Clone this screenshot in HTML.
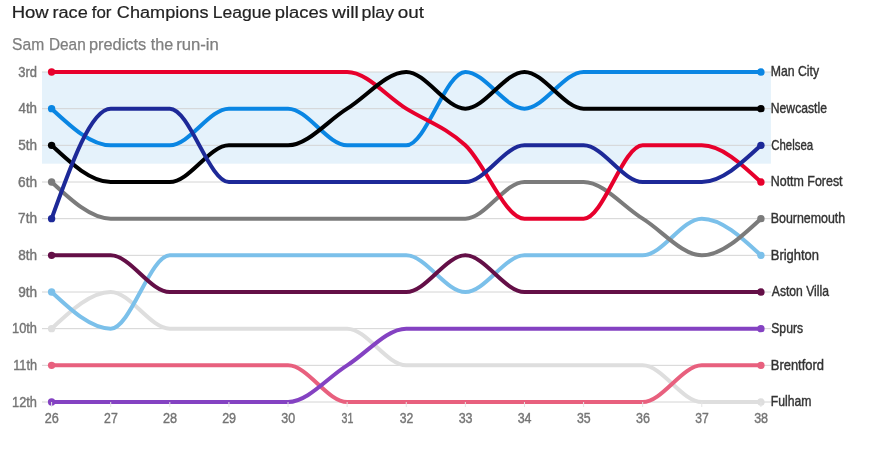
<!DOCTYPE html>
<html lang="en"><head><meta charset="utf-8"><title>How race for Champions League places will play out</title>
<style>html,body{margin:0;padding:0;background:#fff}body{width:869px;height:450px;overflow:hidden}svg{display:block}</style>
</head><body>
<svg width="869" height="450" viewBox="0 0 869 450">
<rect x="42" y="72.00" width="728.90" height="91.67" fill="#e5f2fb"/>
<line x1="42" x2="771" y1="72.00" y2="72.00" stroke="#d4d4d4" stroke-width="1"/>
<line x1="42" x2="771" y1="108.67" y2="108.67" stroke="#d4d4d4" stroke-width="1"/>
<line x1="42" x2="771" y1="145.33" y2="145.33" stroke="#d4d4d4" stroke-width="1"/>
<line x1="42" x2="771" y1="182.00" y2="182.00" stroke="#d4d4d4" stroke-width="1"/>
<line x1="42" x2="771" y1="218.67" y2="218.67" stroke="#d4d4d4" stroke-width="1"/>
<line x1="42" x2="771" y1="255.33" y2="255.33" stroke="#d4d4d4" stroke-width="1"/>
<line x1="42" x2="771" y1="292.00" y2="292.00" stroke="#d4d4d4" stroke-width="1"/>
<line x1="42" x2="771" y1="328.67" y2="328.67" stroke="#d4d4d4" stroke-width="1"/>
<line x1="42" x2="771" y1="365.33" y2="365.33" stroke="#d4d4d4" stroke-width="1"/>
<line x1="42" x2="771" y1="402.00" y2="402.00" stroke="#d4d4d4" stroke-width="1"/>
<g fill="none" stroke-width="4" stroke-linecap="round" stroke-linejoin="round">
<path d="M51.60,328.67C71.30,310.33,91.01,292.00,110.71,292.00C130.41,292.00,150.11,328.67,169.82,328.67C189.52,328.67,209.22,328.67,228.92,328.67C248.63,328.67,268.33,328.67,288.03,328.67C307.74,328.67,327.44,328.67,347.14,328.67C366.84,328.67,386.55,365.33,406.25,365.33C425.95,365.33,445.66,365.33,465.36,365.33C485.06,365.33,504.76,365.33,524.47,365.33C544.17,365.33,563.87,365.33,583.58,365.33C603.28,365.33,622.98,365.33,642.68,365.33C662.39,365.33,682.09,402.00,701.79,402.00C721.49,402.00,741.20,402.00,760.90,402.00" stroke="#dedede"/>
<path d="M51.60,365.33C71.30,365.33,91.01,365.33,110.71,365.33C130.41,365.33,150.11,365.33,169.82,365.33C189.52,365.33,209.22,365.33,228.92,365.33C248.63,365.33,268.33,365.33,288.03,365.33C307.74,365.33,327.44,402.00,347.14,402.00C366.84,402.00,386.55,402.00,406.25,402.00C425.95,402.00,445.66,402.00,465.36,402.00C485.06,402.00,504.76,402.00,524.47,402.00C544.17,402.00,563.87,402.00,583.58,402.00C603.28,402.00,622.98,402.00,642.68,402.00C662.39,402.00,682.09,365.33,701.79,365.33C721.49,365.33,741.20,365.33,760.90,365.33" stroke="#e8607e"/>
<path d="M51.60,402.00C71.30,402.00,91.01,402.00,110.71,402.00C130.41,402.00,150.11,402.00,169.82,402.00C189.52,402.00,209.22,402.00,228.92,402.00C248.63,402.00,268.33,402.00,288.03,402.00C307.74,402.00,327.44,377.56,347.14,365.33C366.84,353.11,386.55,328.67,406.25,328.67C425.95,328.67,445.66,328.67,465.36,328.67C485.06,328.67,504.76,328.67,524.47,328.67C544.17,328.67,563.87,328.67,583.58,328.67C603.28,328.67,622.98,328.67,642.68,328.67C662.39,328.67,682.09,328.67,701.79,328.67C721.49,328.67,741.20,328.67,760.90,328.67" stroke="#8442c2"/>
<path d="M51.60,292.00C71.30,310.33,91.01,328.67,110.71,328.67C130.41,328.67,150.11,255.33,169.82,255.33C189.52,255.33,209.22,255.33,228.92,255.33C248.63,255.33,268.33,255.33,288.03,255.33C307.74,255.33,327.44,255.33,347.14,255.33C366.84,255.33,386.55,255.33,406.25,255.33C425.95,255.33,445.66,292.00,465.36,292.00C485.06,292.00,504.76,255.33,524.47,255.33C544.17,255.33,563.87,255.33,583.58,255.33C603.28,255.33,622.98,255.33,642.68,255.33C662.39,255.33,682.09,218.67,701.79,218.67C721.49,218.67,741.20,237.00,760.90,255.33" stroke="#7bc0ea"/>
<path d="M51.60,255.33C71.30,255.33,91.01,255.33,110.71,255.33C130.41,255.33,150.11,292.00,169.82,292.00C189.52,292.00,209.22,292.00,228.92,292.00C248.63,292.00,268.33,292.00,288.03,292.00C307.74,292.00,327.44,292.00,347.14,292.00C366.84,292.00,386.55,292.00,406.25,292.00C425.95,292.00,445.66,255.33,465.36,255.33C485.06,255.33,504.76,292.00,524.47,292.00C544.17,292.00,563.87,292.00,583.58,292.00C603.28,292.00,622.98,292.00,642.68,292.00C662.39,292.00,682.09,292.00,701.79,292.00C721.49,292.00,741.20,292.00,760.90,292.00" stroke="#640f47"/>
<path d="M51.60,182.00C71.30,200.33,91.01,218.67,110.71,218.67C130.41,218.67,150.11,218.67,169.82,218.67C189.52,218.67,209.22,218.67,228.92,218.67C248.63,218.67,268.33,218.67,288.03,218.67C307.74,218.67,327.44,218.67,347.14,218.67C366.84,218.67,386.55,218.67,406.25,218.67C425.95,218.67,445.66,218.67,465.36,218.67C485.06,218.67,504.76,182.00,524.47,182.00C544.17,182.00,563.87,182.00,583.58,182.00C603.28,182.00,622.98,206.44,642.68,218.67C662.39,230.89,682.09,255.33,701.79,255.33C721.49,255.33,741.20,237.00,760.90,218.67" stroke="#7b7b7b"/>
<path d="M51.60,108.67C71.30,127.00,91.01,145.33,110.71,145.33C130.41,145.33,150.11,145.33,169.82,145.33C189.52,145.33,209.22,108.67,228.92,108.67C248.63,108.67,268.33,108.67,288.03,108.67C307.74,108.67,327.44,145.33,347.14,145.33C366.84,145.33,386.55,145.33,406.25,145.33C425.95,145.33,445.66,72.00,465.36,72.00C485.06,72.00,504.76,108.67,524.47,108.67C544.17,108.67,563.87,72.00,583.58,72.00C603.28,72.00,622.98,72.00,642.68,72.00C662.39,72.00,682.09,72.00,701.79,72.00C721.49,72.00,741.20,72.00,760.90,72.00" stroke="#0a86e3"/>
<path d="M51.60,72.00C71.30,72.00,91.01,72.00,110.71,72.00C130.41,72.00,150.11,72.00,169.82,72.00C189.52,72.00,209.22,72.00,228.92,72.00C248.63,72.00,268.33,72.00,288.03,72.00C307.74,72.00,327.44,72.00,347.14,72.00C366.84,72.00,386.55,96.44,406.25,108.67C425.95,120.89,445.66,127.00,465.36,145.33C485.06,163.67,504.76,218.67,524.47,218.67C544.17,218.67,563.87,218.67,583.58,218.67C603.28,218.67,622.98,145.33,642.68,145.33C662.39,145.33,682.09,145.33,701.79,145.33C721.49,145.33,741.20,163.67,760.90,182.00" stroke="#e7002c"/>
<path d="M51.60,145.33C71.30,163.67,91.01,182.00,110.71,182.00C130.41,182.00,150.11,182.00,169.82,182.00C189.52,182.00,209.22,145.33,228.92,145.33C248.63,145.33,268.33,145.33,288.03,145.33C307.74,145.33,327.44,120.89,347.14,108.67C366.84,96.44,386.55,72.00,406.25,72.00C425.95,72.00,445.66,108.67,465.36,108.67C485.06,108.67,504.76,72.00,524.47,72.00C544.17,72.00,563.87,108.67,583.58,108.67C603.28,108.67,622.98,108.67,642.68,108.67C662.39,108.67,682.09,108.67,701.79,108.67C721.49,108.67,741.20,108.67,760.90,108.67" stroke="#000000"/>
<path d="M51.60,218.67C71.30,163.67,91.01,108.67,110.71,108.67C130.41,108.67,150.11,108.67,169.82,108.67C189.52,108.67,209.22,182.00,228.92,182.00C248.63,182.00,268.33,182.00,288.03,182.00C307.74,182.00,327.44,182.00,347.14,182.00C366.84,182.00,386.55,182.00,406.25,182.00C425.95,182.00,445.66,182.00,465.36,182.00C485.06,182.00,504.76,145.33,524.47,145.33C544.17,145.33,563.87,145.33,583.58,145.33C603.28,145.33,622.98,182.00,642.68,182.00C662.39,182.00,682.09,182.00,701.79,182.00C721.49,182.00,741.20,163.67,760.90,145.33" stroke="#1d2998"/>
</g>
<circle cx="51.60" cy="328.67" r="3.7" fill="#dedede"/>
<circle cx="760.90" cy="402.00" r="3.7" fill="#dedede"/>
<circle cx="51.60" cy="365.33" r="3.7" fill="#e8607e"/>
<circle cx="760.90" cy="365.33" r="3.7" fill="#e8607e"/>
<circle cx="51.60" cy="402.00" r="3.7" fill="#8442c2"/>
<circle cx="760.90" cy="328.67" r="3.7" fill="#8442c2"/>
<circle cx="51.60" cy="292.00" r="3.7" fill="#7bc0ea"/>
<circle cx="760.90" cy="255.33" r="3.7" fill="#7bc0ea"/>
<circle cx="51.60" cy="255.33" r="3.7" fill="#640f47"/>
<circle cx="760.90" cy="292.00" r="3.7" fill="#640f47"/>
<circle cx="51.60" cy="182.00" r="3.7" fill="#7b7b7b"/>
<circle cx="760.90" cy="218.67" r="3.7" fill="#7b7b7b"/>
<circle cx="51.60" cy="108.67" r="3.7" fill="#0a86e3"/>
<circle cx="760.90" cy="72.00" r="3.7" fill="#0a86e3"/>
<circle cx="51.60" cy="72.00" r="3.7" fill="#e7002c"/>
<circle cx="760.90" cy="182.00" r="3.7" fill="#e7002c"/>
<circle cx="51.60" cy="145.33" r="3.7" fill="#000000"/>
<circle cx="760.90" cy="108.67" r="3.7" fill="#000000"/>
<circle cx="51.60" cy="218.67" r="3.7" fill="#1d2998"/>
<circle cx="760.90" cy="145.33" r="3.7" fill="#1d2998"/>
<line x1="51.60" x2="51.60" y1="402.00" y2="407.00" stroke="#e4e4e4" stroke-width="1"/>
<line x1="110.71" x2="110.71" y1="402.00" y2="407.00" stroke="#e4e4e4" stroke-width="1"/>
<line x1="169.82" x2="169.82" y1="402.00" y2="407.00" stroke="#e4e4e4" stroke-width="1"/>
<line x1="228.92" x2="228.92" y1="402.00" y2="407.00" stroke="#e4e4e4" stroke-width="1"/>
<line x1="288.03" x2="288.03" y1="402.00" y2="407.00" stroke="#e4e4e4" stroke-width="1"/>
<line x1="347.14" x2="347.14" y1="402.00" y2="407.00" stroke="#e4e4e4" stroke-width="1"/>
<line x1="406.25" x2="406.25" y1="402.00" y2="407.00" stroke="#e4e4e4" stroke-width="1"/>
<line x1="465.36" x2="465.36" y1="402.00" y2="407.00" stroke="#e4e4e4" stroke-width="1"/>
<line x1="524.47" x2="524.47" y1="402.00" y2="407.00" stroke="#e4e4e4" stroke-width="1"/>
<line x1="583.58" x2="583.58" y1="402.00" y2="407.00" stroke="#e4e4e4" stroke-width="1"/>
<line x1="642.68" x2="642.68" y1="402.00" y2="407.00" stroke="#e4e4e4" stroke-width="1"/>
<line x1="701.79" x2="701.79" y1="402.00" y2="407.00" stroke="#e4e4e4" stroke-width="1"/>
<line x1="760.90" x2="760.90" y1="402.00" y2="407.00" stroke="#e4e4e4" stroke-width="1"/>
<g font-family="'Liberation Sans', sans-serif" font-size="14.1" fill="#757575" stroke="#757575" stroke-width="0.4">
<text x="18.31" y="77.00" textLength="18.73" lengthAdjust="spacingAndGlyphs">3rd</text>
<text x="18.49" y="113.00" textLength="18.57" lengthAdjust="spacingAndGlyphs">4th</text>
<text x="18.26" y="150.00" textLength="18.82" lengthAdjust="spacingAndGlyphs">5th</text>
<text x="18.11" y="187.00" textLength="18.98" lengthAdjust="spacingAndGlyphs">6th</text>
<text x="18.10" y="223.00" textLength="18.99" lengthAdjust="spacingAndGlyphs">7th</text>
<text x="18.21" y="260.00" textLength="18.87" lengthAdjust="spacingAndGlyphs">8th</text>
<text x="18.16" y="297.00" textLength="18.92" lengthAdjust="spacingAndGlyphs">9th</text>
<text x="12.02" y="333.00" textLength="25.01" lengthAdjust="spacingAndGlyphs">10th</text>
<text x="13.23" y="370.00" textLength="23.79" lengthAdjust="spacingAndGlyphs">11th</text>
<text x="12.02" y="407.00" textLength="25.01" lengthAdjust="spacingAndGlyphs">12th</text>
</g>
<g font-family="'Liberation Sans', sans-serif" font-size="13.8" fill="#757575" stroke="#757575" stroke-width="0.4">
<text x="44.71" y="423.00" textLength="14.09" lengthAdjust="spacingAndGlyphs">26</text>
<text x="104.09" y="423.00" textLength="13.63" lengthAdjust="spacingAndGlyphs">27</text>
<text x="162.93" y="423.00" textLength="14.09" lengthAdjust="spacingAndGlyphs">28</text>
<text x="222.15" y="423.00" textLength="13.92" lengthAdjust="spacingAndGlyphs">29</text>
<text x="281.31" y="423.00" textLength="13.86" lengthAdjust="spacingAndGlyphs">30</text>
<text x="341.49" y="423.00" textLength="11.82" lengthAdjust="spacingAndGlyphs">31</text>
<text x="399.74" y="423.00" textLength="13.58" lengthAdjust="spacingAndGlyphs">32</text>
<text x="458.63" y="423.00" textLength="13.93" lengthAdjust="spacingAndGlyphs">33</text>
<text x="517.69" y="423.00" textLength="13.84" lengthAdjust="spacingAndGlyphs">34</text>
<text x="576.96" y="423.00" textLength="13.69" lengthAdjust="spacingAndGlyphs">35</text>
<text x="635.96" y="423.00" textLength="13.93" lengthAdjust="spacingAndGlyphs">36</text>
<text x="695.33" y="423.00" textLength="13.47" lengthAdjust="spacingAndGlyphs">37</text>
<text x="754.17" y="423.00" textLength="13.92" lengthAdjust="spacingAndGlyphs">38</text>
</g>
<g font-family="'Liberation Sans', sans-serif" font-size="14.2" fill="#333" stroke="#333" stroke-width="0.4">
<text x="770.80" y="406.00" textLength="40.71" lengthAdjust="spacingAndGlyphs">Fulham</text>
<text x="770.74" y="370.00" textLength="53.30" lengthAdjust="spacingAndGlyphs">Brentford</text>
<text x="771.25" y="333.00" textLength="31.79" lengthAdjust="spacingAndGlyphs">Spurs</text>
<text x="770.74" y="260.00" textLength="48.31" lengthAdjust="spacingAndGlyphs">Brighton</text>
<text x="771.78" y="296.00" textLength="57.22" lengthAdjust="spacingAndGlyphs">Aston Villa</text>
<text x="770.78" y="223.00" textLength="74.42" lengthAdjust="spacingAndGlyphs">Bournemouth</text>
<text x="770.80" y="76.00" textLength="48.33" lengthAdjust="spacingAndGlyphs">Man City</text>
<text x="770.78" y="186.00" textLength="71.81" lengthAdjust="spacingAndGlyphs">Nottm Forest</text>
<text x="770.80" y="113.00" textLength="56.14" lengthAdjust="spacingAndGlyphs">Newcastle</text>
<text x="771.22" y="150.00" textLength="41.88" lengthAdjust="spacingAndGlyphs">Chelsea</text>
</g>
<g font-family="'Liberation Sans', sans-serif" font-size="17.3" fill="#222" stroke="#222" stroke-width="0.2">
<text x="11.68" y="17.70" textLength="37.08" lengthAdjust="spacingAndGlyphs">How</text>
<text x="52.49" y="17.70" textLength="35.31" lengthAdjust="spacingAndGlyphs">race</text>
<text x="91.76" y="17.70" textLength="19.72" lengthAdjust="spacingAndGlyphs">for</text>
<text x="116.88" y="17.70" textLength="91.57" lengthAdjust="spacingAndGlyphs">Champions</text>
<text x="212.66" y="17.70" textLength="58.62" lengthAdjust="spacingAndGlyphs">League</text>
<text x="274.71" y="17.70" textLength="53.15" lengthAdjust="spacingAndGlyphs">places</text>
<text x="332.03" y="17.70" textLength="26.66" lengthAdjust="spacingAndGlyphs">will</text>
<text x="361.56" y="17.70" textLength="32.58" lengthAdjust="spacingAndGlyphs">play</text>
<text x="397.71" y="17.70" textLength="26.23" lengthAdjust="spacingAndGlyphs">out</text>
</g>
<g font-family="'Liberation Sans', sans-serif" font-size="16.3" fill="#7f7f7f" stroke="#7f7f7f" stroke-width="0.25">
<text x="12.09" y="50.30" textLength="32.14" lengthAdjust="spacingAndGlyphs">Sam</text>
<text x="48.94" y="50.30" textLength="36.76" lengthAdjust="spacingAndGlyphs">Dean</text>
<text x="88.95" y="50.30" textLength="57.24" lengthAdjust="spacingAndGlyphs">predicts</text>
<text x="150.86" y="50.30" textLength="22.46" lengthAdjust="spacingAndGlyphs">the</text>
<text x="176.19" y="50.30" textLength="42.69" lengthAdjust="spacingAndGlyphs">run-in</text>
</g>
</svg>
</body></html>
